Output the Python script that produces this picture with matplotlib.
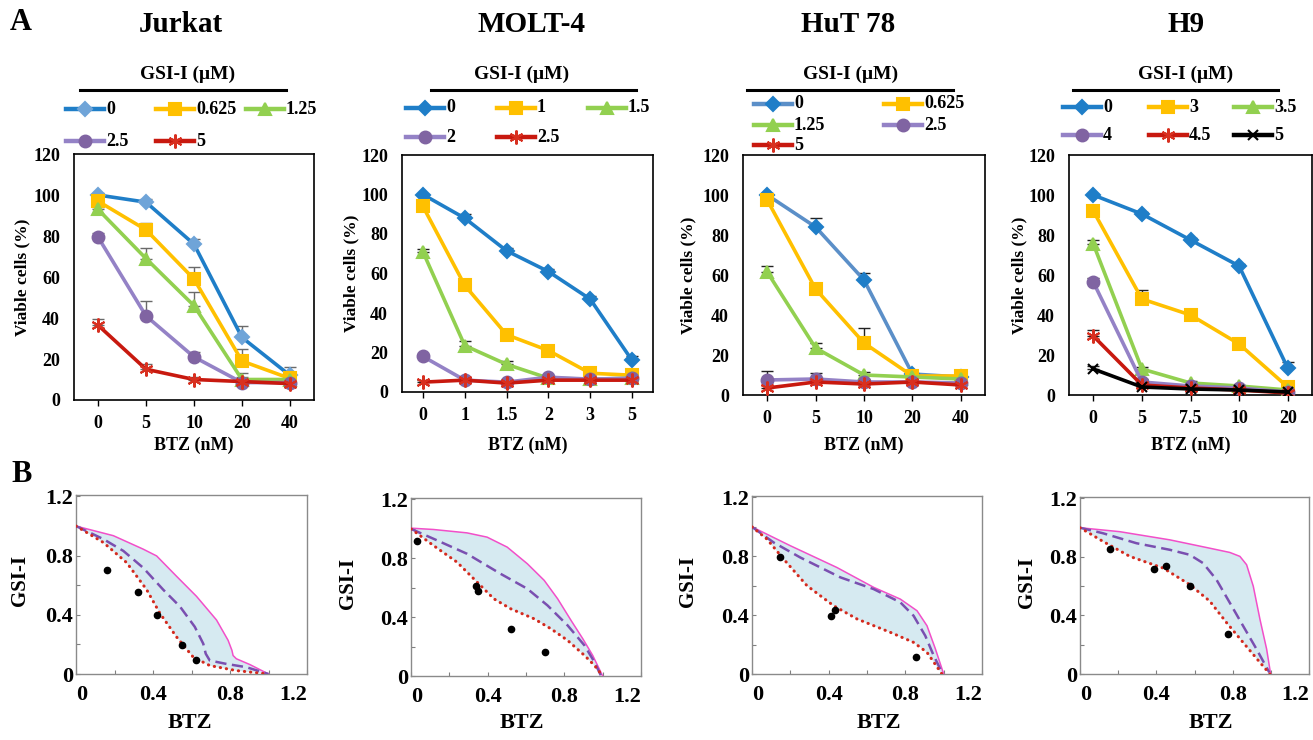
import numpy as np
import matplotlib
matplotlib.use("Agg")
import matplotlib.pyplot as plt
from matplotlib.lines import Line2D

plt.rcParams['font.family'] = ['Liberation Serif', 'DejaVu Serif']
plt.rcParams['font.weight'] = 'bold'
plt.rcParams['axes.labelweight'] = 'bold'

W, H = 1313, 740

# ---- panel A data: viability (%) and upper error ----
cell_lines = ['Jurkat', 'MOLT-4', 'HuT 78', 'H9']

jurkat_btz = ['0', '5', '10', '20', '40']
jurkat_gsi = ['0', '0.625', '1.25', '2.5', '5']
jurkat_viab = [[100, 96.5, 76, 30.5, 12],
               [97, 83, 59, 19, 10.5],
               [93, 69, 46, 10, 10],
               [79.5, 41, 21, 8.5, 8.5],
               [36.5, 15, 10, 9, 8]]
jurkat_err = [[0.8, 1.5, 2.5, 5.5, 4],
              [1.5, 3.5, 6, 6, 1.5],
              [1, 5, 6.5, 3, 1],
              [2, 7.5, 2.5, 2.5, 1.5],
              [3, 2.5, 1, 1, 1]]

molt_btz = ['0', '1', '1.5', '2', '3', '5']
molt_gsi = ['0', '1', '1.5', '2', '2.5']
molt_viab = [[100, 88, 71.5, 61, 47, 16],
             [94, 54, 29, 21, 9.5, 8.5],
             [71, 23.5, 14, 7, 6.5, 7],
             [18, 6, 5, 7.5, 6.5, 7],
             [5, 6, 4.5, 6, 6, 6]]
molt_err = [[0.5, 2, 1.5, 1.5, 1.5, 2],
            [2, 2, 1.5, 1, 2, 1],
            [1.5, 2.5, 1.5, 1, 0.5, 0.5],
            [1, 1, 1, 1, 1, 1],
            [1, 1, 1, 1, 1, 1]]

hut_btz = ['0', '5', '10', '20', '40']
hut_gsi = ['0', '0.625', '1.25', '2.5', '5']
hut_viab = [[100, 84, 57.5, 10.5, 9],
            [97.5, 53, 26, 9.5, 9.5],
            [61.5, 23.5, 10, 9, 8],
            [7.5, 8, 6.5, 6.5, 6],
            [3.5, 6.5, 5.5, 6.5, 5]]
hut_err = [[1, 4.5, 3.5, 2, 2],
           [1, 2, 7.5, 2, 2.5],
           [3, 2.5, 1.5, 1, 1],
           [4.5, 3, 1.5, 1.5, 1],
           [1.5, 1.5, 1.5, 0.5, 1]]

h9_btz = ['0', '5', '7.5', '10', '20']
h9_gsi = ['0', '3', '3.5', '4', '4.5', '5']
h9_viab = [[100, 90.5, 77.5, 64.5, 13.5],
           [92, 48, 40, 25.5, 4],
           [75.5, 13, 6, 4.5, 2.5],
           [56.5, 6.5, 4.5, 3.5, 1.5],
           [29.5, 5, 3.5, 2.5, 1],
           [13, 4, 3, 2.5, 1.5]]
h9_err = [[0.5, 1, 1, 1, 3],
          [1, 4.5, 2, 2.5, 1],
          [2, 1, 1, 0.5, 0.5],
          [2, 1.5, 0.5, 0.5, 0.5],
          [3, 1, 0.5, 0.5, 1],
          [1.5, 1, 1, 0.5, 0.5]]

# ---- panel B data: isobologram curves (normalised BTZ, GSI-I) ----
jurkat_upper = [(0, 1.0), (0.194, 0.935), (0.349, 0.844), (0.419, 0.798), (0.522, 0.661),
                (0.626, 0.525), (0.730, 0.365), (0.790, 0.228), (0.810, 0.160), (0.816, 0.125),
                (0.833, 0.103), (0.903, 0.064), (1.0, 0.0)]
jurkat_mid = [(0, 1.0), (0.142, 0.912), (0.246, 0.832), (0.349, 0.718), (0.453, 0.570),
              (0.540, 0.456), (0.617, 0.319), (0.661, 0.205), (0.674, 0.137), (0.695, 0.091),
              (0.782, 0.068), (0.885, 0.046), (1.0, 0.0)]
jurkat_lower = [(0, 1.0), (0.142, 0.889), (0.263, 0.753), (0.367, 0.570), (0.436, 0.410),
                (0.522, 0.251), (0.609, 0.114), (0.695, 0.057), (0.833, 0.023), (1.0, 0.0)]
jurkat_dots = [(0.159, 0.70), (0.320, 0.556), (0.420, 0.40), (0.552, 0.198), (0.623, 0.096)]

molt_upper = [(0, 1.005), (0.117, 0.996), (0.292, 0.973), (0.397, 0.944), (0.502, 0.876),
              (0.607, 0.763), (0.695, 0.650), (0.765, 0.525), (0.835, 0.378), (0.896, 0.254),
              (0.948, 0.140), (1.0, 0.0)]
molt_mid = [(0, 1.0), (0.117, 0.933), (0.292, 0.831), (0.467, 0.695), (0.607, 0.593),
            (0.712, 0.480), (0.817, 0.344), (0.905, 0.208), (0.957, 0.095), (0.992, 0.0)]
molt_lower = [(0, 1.0), (0.117, 0.887), (0.240, 0.774), (0.345, 0.638), (0.432, 0.525),
              (0.520, 0.457), (0.642, 0.389), (0.730, 0.321), (0.817, 0.242), (0.905, 0.140),
              (0.957, 0.072), (1.0, 0.0)]
molt_dots = [(0.033, 0.917), (0.341, 0.609), (0.348, 0.577), (0.523, 0.321), (0.698, 0.163)]

hut_upper = [(0, 1.0), (0.2, 0.872), (0.443, 0.724), (0.635, 0.589), (0.774, 0.509),
             (0.861, 0.430), (0.913, 0.328), (0.957, 0.170), (1.0, 0.0)]
hut_mid = [(0, 1.0), (0.113, 0.894), (0.252, 0.792), (0.461, 0.657), (0.635, 0.577),
           (0.774, 0.487), (0.843, 0.396), (0.904, 0.260), (0.948, 0.125), (0.991, 0.011)]
hut_lower = [(0, 1.0), (0.078, 0.917), (0.165, 0.781), (0.287, 0.600), (0.426, 0.464),
             (0.548, 0.374), (0.722, 0.283), (0.843, 0.215), (0.913, 0.147), (0.991, 0.0)]
hut_dots = [(0.144, 0.797), (0.412, 0.396), (0.433, 0.437), (0.857, 0.118)]

h9_upper = [(0, 1.0), (0.208, 0.973), (0.471, 0.917), (0.680, 0.860), (0.785, 0.831),
            (0.838, 0.804), (0.873, 0.747), (0.908, 0.600), (0.943, 0.374), (0.978, 0.170),
            (0.999, 0.0)]
h9_mid = [(0, 1.0), (0.121, 0.962), (0.296, 0.894), (0.471, 0.849), (0.575, 0.815),
          (0.645, 0.758), (0.715, 0.645), (0.785, 0.487), (0.855, 0.328), (0.925, 0.170),
          (0.992, 0.011)]
h9_lower = [(0, 1.0), (0.121, 0.906), (0.261, 0.804), (0.436, 0.724), (0.575, 0.611),
            (0.680, 0.498), (0.768, 0.351), (0.855, 0.215), (0.943, 0.079), (0.995, 0.0)]
h9_dots = [(0.156, 0.853), (0.387, 0.718), (0.450, 0.736), (0.579, 0.600), (0.775, 0.276)]

# styles: (line colour, marker colour, marker)
STAR = (6, 2, 0)
blue = ('#1f7ec8', '#1f7ec8', 'D')
yellow = ('#ffc000', '#ffc000', 's')
green = ('#92d050', '#92d050', '^')
purple = ('#9482c6', '#8064a2', 'o')
red = ('#c8190f', '#d83020', STAR)
black = ('#000000', '#000000', 'x')

jurkat_styles = [('#1f7ec8', '#6fa4d8', 'D'), yellow, green, purple, red]
molt_styles = [blue, yellow, green, purple, red]
hut_styles = [('#5b8fc8', '#1f7ec8', 'D'), yellow, green, purple, red]
h9_styles = [blue, yellow, green, purple, red, black]

MSIZE = {'D': 7, 's': 8.5, '^': 8, 'o': 8.5, 'x': 7}


def box(l, t, r, b):
    return [l / W, 1 - b / H, (r - l) / W, (b - t) / H]


def fx(x):
    return x / W


def fy(y):
    return 1 - y / H


def msize(m):
    return MSIZE.get(m, 10) if isinstance(m, str) else 10


def draw_a(ax, btz, viab, err, styles, ecolor):
    x = np.arange(len(btz))
    for vals, e, (lc, mc, m) in zip(viab, err, styles):
        vals = np.array(vals)
        ax.errorbar(x, vals, yerr=[np.zeros(len(e)), e], fmt='none', ecolor=ecolor,
                    elinewidth=1, capsize=4, capthick=1, zorder=2)
        ax.plot(x, vals, color=lc, lw=2.6, marker=m, ms=msize(m), mfc=mc, mec=mc,
                mew=1.5, zorder=3)
    ax.set_xlim(-0.5, len(btz) - 0.5)
    ax.set_ylim(0, 120)
    ax.set_xticks(x)
    ax.set_xticklabels(btz)
    ax.set_yticks(np.arange(0, 121, 20))
    ax.tick_params(axis='x', direction='out', length=4, width=1, pad=7, labelsize=13)
    ax.tick_params(axis='y', length=0, pad=10, labelsize=13)
    for s in ax.spines.values():
        s.set_linewidth(1.2)
    ax.set_xlabel('BTZ (nM)', fontsize=13)
    ax.set_ylabel('Viable cells (%)', fontsize=12.5)


def add_legend(labels, styles, col_x, row_y, ncol):
    for i, (lab, (lc, mc, m)) in enumerate(zip(labels, styles)):
        x0 = col_x[i % ncol]
        y = row_y[i // ncol]
        x1 = x0 + 38
        fig.add_artist(Line2D([fx(x0), fx((x0 + x1) / 2), fx(x1)], [fy(y)] * 3,
                              color=lc, lw=3.2, marker=m, markevery=[1], ms=msize(m),
                              mfc=mc, mec=mc, mew=1.5))
        fig.text(fx(x1 + 2), fy(y), lab, fontsize=13, ha='left', va='center')


def draw_b(ax, upper, mid, lower, dots):
    up = np.array(upper)
    md = np.array(mid)
    lo = np.array(lower)
    dt = np.array(dots)
    ax.fill(np.r_[up[:, 0], lo[::-1, 0]], np.r_[up[:, 1], lo[::-1, 1]],
            color='#d6eaf1', lw=0, zorder=1)
    ax.plot(up[:, 0], up[:, 1], color='#f24fc9', lw=1.1, zorder=3)
    ax.plot(md[:, 0], md[:, 1], color='#7a4fb0', lw=1.8, ls=(0, (4.5, 2.2)), zorder=3)
    ax.plot(lo[:, 0], lo[:, 1], color='#d42a1e', lw=2.2, ls=(0, (0.1, 1.9)),
            dash_capstyle='round', zorder=3)
    ax.plot(dt[:, 0], dt[:, 1], 'o', color='black', ms=4.5, zorder=4)
    ax.set_xlim(0, 1.2)
    ax.set_ylim(0, 1.21)
    ax.set_xticks([0, 0.4, 0.8, 1.2])
    ax.set_xticklabels(['0', '0.4', '0.8', '1.2'])
    ax.set_xticks([0.2, 0.6, 1.0], minor=True)
    ax.set_yticks([0, 0.4, 0.8, 1.2])
    ax.set_yticklabels(['0', '0.4', '0.8', '1.2'])
    ax.set_yticks([0.2, 0.6, 1.0], minor=True)
    ax.tick_params(which='both', direction='in', length=3, width=0.8, color='#808080',
                   labelsize=16)
    ax.tick_params(axis='y', which='both', pad=2)
    ax.tick_params(axis='x', which='both', pad=8)
    # first and last BTZ labels sit inside the frame, as in the figure
    ax.get_xticklabels()[0].set_ha('left')
    ax.get_xticklabels()[-1].set_ha('right')
    for s in ax.spines.values():
        s.set_color('#8a8a8a')
        s.set_linewidth(1.0)
    ax.set_xlabel('BTZ', fontsize=16)
    ax.set_ylabel('GSI-I', fontsize=15)


fig = plt.figure(figsize=(W / 100, H / 100), dpi=100)

a_boxes = [(74, 154, 314, 400), (402, 155, 653, 392), (743, 155, 985, 395), (1069, 155, 1312, 395)]
b_boxes = [(76, 495, 307, 674), (411, 498, 641, 676), (752, 496, 982, 674), (1080, 497, 1309, 674)]

a_data = [(jurkat_btz, jurkat_gsi, jurkat_viab, jurkat_err, jurkat_styles, '#6a6a6a'),
          (molt_btz, molt_gsi, molt_viab, molt_err, molt_styles, '#222222'),
          (hut_btz, hut_gsi, hut_viab, hut_err, hut_styles, '#222222'),
          (h9_btz, h9_gsi, h9_viab, h9_err, h9_styles, '#222222')]
b_data = [(jurkat_upper, jurkat_mid, jurkat_lower, jurkat_dots),
          (molt_upper, molt_mid, molt_lower, molt_dots),
          (hut_upper, hut_mid, hut_lower, hut_dots),
          (h9_upper, h9_mid, h9_lower, h9_dots)]

# layout of titles / legends in pixels
title_x = [181, 532, 848, 1186]
gsi_x = [188, 522, 851, 1186]
gsi_line = [(80, 286), (431, 636), (747, 953), (1073, 1278)]
leg_cols = [[66, 156, 246], [406, 497, 588], [754, 884], [1063, 1149, 1234]]
leg_rows = [[109, 141], [108, 137], [104, 125, 145], [107, 135]]
ylab_a = [22, 351, 688, 1019]
ylab_b = [20, 348, 688, 1027]
xlab_b = [190, 522, 879, 1211]

for i in range(4):
    btz, gsi, viab, err, styles, ecol = a_data[i]
    l, t, r, b = a_boxes[i]
    ax = fig.add_axes(box(l, t, r, b))
    draw_a(ax, btz, viab, err, styles, ecol)
    ax.xaxis.set_label_coords(0.5, (b - 445) / (b - t))
    ax.xaxis.label.set_va('center')
    ax.yaxis.set_label_coords((ylab_a[i] - l) / (r - l), 0.5)
    ax.yaxis.label.set_va('center')

    fig.text(fx(title_x[i]), fy(25), cell_lines[i], fontsize=21, ha='center', va='center')
    fig.text(fx(gsi_x[i]), fy(74), 'GSI-I (μM)', fontsize=14, ha='center', va='center')
    x0, x1 = gsi_line[i]
    fig.add_artist(Line2D([fx(x0), fx(x1)], [fy(90), fy(90)], color='black', lw=2.2))
    ncol = len(leg_cols[i])
    add_legend(gsi, styles, leg_cols[i], leg_rows[i], ncol)

    up, md, lo, dt = b_data[i]
    l, t, r, b = b_boxes[i]
    bx = fig.add_axes(box(l, t, r, b))
    draw_b(bx, up, md, lo, dt)
    bx.xaxis.set_label_coords((xlab_b[i] - l) / (r - l), (b - 723) / (b - t))
    bx.xaxis.label.set_va('center')
    bx.yaxis.set_label_coords((ylab_b[i] - l) / (r - l), 0.52)
    bx.yaxis.label.set_va('center')

fig.text(fx(21), fy(23), 'A', fontsize=22, ha='center', va='center')
fig.text(fx(22), fy(475), 'B', fontsize=22, ha='center', va='center')

fig.savefig('out.png', dpi=100)
